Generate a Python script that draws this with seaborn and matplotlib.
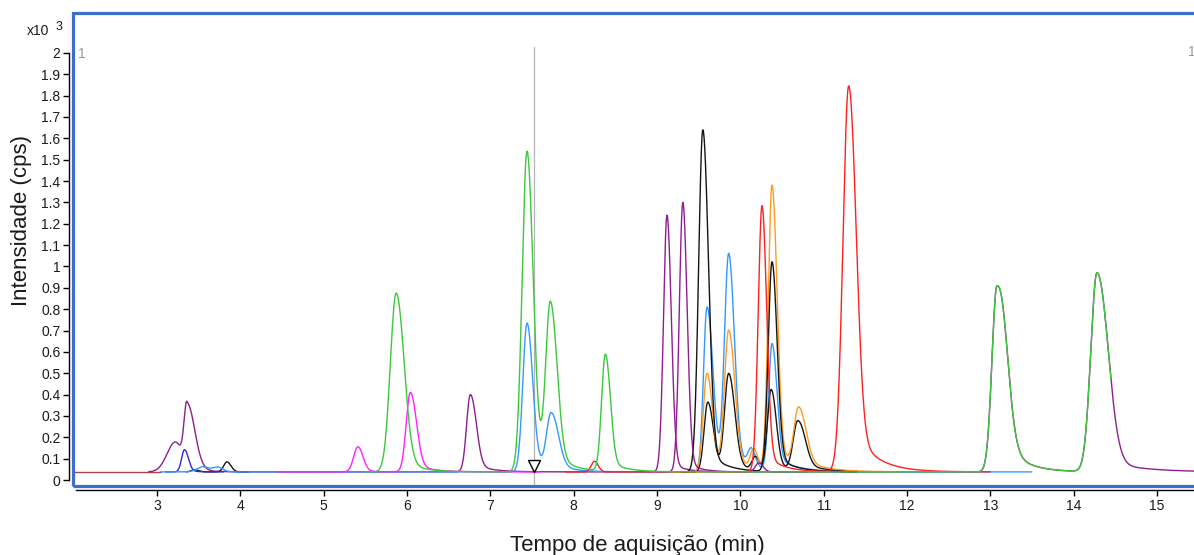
import numpy as np
import pandas as pd
import matplotlib
matplotlib.use("Agg")
import matplotlib.pyplot as plt
from matplotlib.patches import Rectangle
import seaborn as sns

# ---------------------------------------------------------------------------
# Chromatogram data: retention time (min), apex intensity (cps) and the peak
# shape of every peak as (sigma, right/left asymmetry, tail fraction, tail tau)
# ---------------------------------------------------------------------------
BASELINE_CPS = 38

darkred_window = (1.99, 3.05)
darkred_rt, darkred_cps, darkred_shape = [], [], []

purple_window = (2.90, 15.52)
purple_rt = [3.22, 3.36, 6.76, 9.12, 13.08, 14.28]
purple_cps = [178, 338, 400, 1240, 910, 970]
purple_shape = [(0.10, 0.8, 0.0, 0.2), (0.035, 2.6, 0.10, 0.15),
                (0.045, 1.5, 0.12, 0.20), (0.042, 1.2, 0.05, 0.15),
                (0.060, 1.8, 0.23, 0.23), (0.075, 1.7, 0.07, 0.41)]

purple2_window = (9.00, 10.80)
purple2_rt = [9.31, 10.22]
purple2_cps = [1300, 80]
purple2_shape = [(0.042, 1.2, 0.05, 0.15), (0.040, 1.3, 0.0, 0.20)]

lightblue_window = (3.04, 13.50)
lightblue_rt = [3.55, 3.73, 7.44, 7.73, 9.60, 9.86, 10.13, 10.38]
lightblue_cps = [62, 60, 735, 300, 810, 1040, 120, 630]
lightblue_shape = [(0.07, 1.0, 0.0, 0.2), (0.06, 1.0, 0.0, 0.2),
                   (0.050, 1.3, 0.10, 0.20), (0.055, 1.5, 0.12, 0.20),
                   (0.042, 1.6, 0.10, 0.20), (0.050, 1.3, 0.10, 0.20),
                   (0.040, 1.2, 0.0, 0.20), (0.040, 1.4, 0.12, 0.25)]

magenta_window = (4.45, 7.60)
magenta_rt = [5.41, 6.04]
magenta_cps = [156, 410]
magenta_shape = [(0.050, 1.2, 0.05, 0.20), (0.050, 1.4, 0.12, 0.20)]

green_window = (5.50, 14.45)
green_rt = [5.87, 7.44, 7.72, 8.38, 13.08, 14.28]
green_cps = [875, 1540, 800, 585, 910, 970]
green_shape = [(0.070, 1.3, 0.10, 0.20), (0.058, 1.2, 0.10, 0.20),
               (0.055, 1.4, 0.10, 0.20), (0.045, 1.3, 0.10, 0.20),
               (0.060, 1.8, 0.23, 0.23), (0.075, 1.7, 0.07, 0.41)]

blue_window = (3.10, 3.80)
blue_rt = [3.33]
blue_cps = [142]
blue_shape = [(0.035, 1.3, 0.05, 0.15)]

red_window = (7.90, 13.00)
red_rt = [8.25, 10.26, 11.30]
red_cps = [88, 1285, 1845]
red_shape = [(0.040, 1.1, 0.0, 0.20), (0.045, 1.2, 0.08, 0.20),
             (0.068, 1.25, 0.14, 0.255)]

orange_window = (9.20, 11.90)
orange_rt = [9.60, 9.86, 10.16, 10.38, 10.70]
orange_cps = [500, 690, 130, 1375, 315]
orange_shape = [(0.045, 1.4, 0.10, 0.20), (0.050, 1.4, 0.10, 0.20),
                (0.040, 1.2, 0.0, 0.20), (0.045, 1.3, 0.10, 0.20),
                (0.055, 1.5, 0.15, 0.30)]

black1_window = (3.35, 4.10)
black1_rt = [3.45, 3.84]
black1_cps = [48, 85]
black1_shape = [(0.04, 1.2, 0.0, 0.2), (0.04, 1.2, 0.0, 0.2)]

black2_window = (9.30, 11.40)
black2_rt = [9.55, 10.38]
black2_cps = [1640, 1020]
black2_shape = [(0.050, 1.3, 0.08, 0.20), (0.045, 1.3, 0.10, 0.20)]

black3_window = (9.35, 11.40)
black3_rt = [9.61, 9.86, 10.18, 10.37, 10.69]
black3_cps = [365, 490, 100, 420, 270]
black3_shape = [(0.045, 1.4, 0.10, 0.20), (0.050, 1.4, 0.10, 0.20),
                (0.040, 1.2, 0.0, 0.20), (0.045, 1.3, 0.10, 0.20),
                (0.055, 1.5, 0.15, 0.30)]

# drawing order: later traces are drawn on top
traces = [
    ("darkred", "#b04040", darkred_window, darkred_rt, darkred_cps, darkred_shape),
    ("purple", "#8e1f8e", purple_window, purple_rt, purple_cps, purple_shape),
    ("black1", "#151515", black1_window, black1_rt, black1_cps, black1_shape),
    ("blue", "#2a2ae0", blue_window, blue_rt, blue_cps, blue_shape),
    ("lightblue", "#3399ff", lightblue_window, lightblue_rt, lightblue_cps, lightblue_shape),
    ("magenta", "#ff22ff", magenta_window, magenta_rt, magenta_cps, magenta_shape),
    ("black3", "#151515", black3_window, black3_rt, black3_cps, black3_shape),
    ("orange", "#ff9922", orange_window, orange_rt, orange_cps, orange_shape),
    ("black2", "#151515", black2_window, black2_rt, black2_cps, black2_shape),
    ("purple2", "#8e1f8e", purple2_window, purple2_rt, purple2_cps, purple2_shape),
    ("red", "#ff2020", red_window, red_rt, red_cps, red_shape),
    ("green", "#3cc83c", green_window, green_rt, green_cps, green_shape),
]

x_ticks = list(range(3, 16))
y_ticks = [round(0.1 * i, 1) for i in range(21)]

MARKER_TIME = 7.52


def peak_profile(t, rt, amp, sigma, asym, tail, tau):
    """Bi-Gaussian peak with a smooth exponential tail on the right side."""
    d = t - rt
    left = amp * np.exp(-0.5 * (d / sigma) ** 2)
    dr = np.clip(d, 0, None)
    right = amp * (np.exp(-0.5 * (dr / (sigma * asym)) ** 2)
                   + tail * (1 - np.exp(-0.5 * (dr / sigma) ** 2)) * np.exp(-dr / tau))
    return np.where(d < 0, left, right)


frames = []
for name, color, (t0, t1), rts, cps, shapes in traces:
    t = np.arange(t0, t1, 0.002)
    y = np.full_like(t, BASELINE_CPS, dtype=float)
    for rt, h, (sg, asym, tail, tau) in zip(rts, cps, shapes):
        y += peak_profile(t, rt, h - BASELINE_CPS, sg, asym, tail, tau)
    frames.append(pd.DataFrame({"time": t, "intensity": y / 1000.0, "trace": name}))
df = pd.concat(frames, ignore_index=True)

palette = {name: color for name, color, *_ in traces}
order = [name for name, *_ in traces]

# ---------------------------------------------------------------------------
sns.set_style("white")
plt.rcParams["font.family"] = ["Liberation Sans", "DejaVu Sans"]

W, H = 1194, 555
fig = plt.figure(figsize=(W / 100, H / 100), dpi=100)
ax_left, ax_right, ax_top, ax_bottom = 73, 1200, 13, 486
ax = fig.add_axes([ax_left / W, 1 - ax_bottom / H,
                   (ax_right - ax_left) / W, (ax_bottom - ax_top) / H])

ax.axvline(MARKER_TIME, ymax=(2.028 + 0.028) / (2.187 + 0.028),
           color="#b4b4b4", lw=0.9, zorder=1)

sns.lineplot(data=df, x="time", y="intensity", hue="trace", hue_order=order,
             palette=palette, estimator=None, sort=False, legend=False,
             linewidth=1.0, ax=ax, zorder=2)

ax.plot([MARKER_TIME], [0.066], marker="v", ms=8, mfc="white", mec="black",
        mew=1.0, zorder=5)

ax.set_xlim(1.992, 15.516)
ax.set_ylim(-0.028, 2.187)
ax.set_xticks(x_ticks)
ax.set_yticks(y_ticks)
ax.set_xticklabels([str(v) for v in x_ticks])
ax.set_yticklabels([f"{v:g}" for v in y_ticks])

for side in ("top", "right"):
    ax.spines[side].set_visible(False)
for side in ("left", "bottom"):
    ax.spines[side].set_visible(True)
    ax.spines[side].set_color("black")
    ax.spines[side].set_linewidth(1.0)
    ax.spines[side].set_position(("outward", 3))
ax.spines["left"].set_bounds(0, 2.0)
ax.spines["bottom"].set_bounds(2.03, 15.516)

ax.tick_params(axis="both", direction="out", length=4, width=1.0,
               color="black", labelsize=10, labelcolor="#1a1a1a", pad=2,
               left=True, bottom=True)

ax.add_patch(Rectangle((0, 0), 1, 1, transform=ax.transAxes, fill=False,
                       ec="#3a6fd0", lw=2.3, clip_on=False, zorder=6))

ax.set_xlabel("Tempo de aquisição (min)", fontsize=16, color="#1a1a1a")
ax.set_ylabel("Intensidade (cps)", fontsize=16, color="#1a1a1a")
ax.xaxis.set_label_coords((637 - ax_left) / (ax_right - ax_left),
                          -(535 - ax_bottom) / (ax_bottom - ax_top))
ax.yaxis.set_label_coords(-(ax_left - 32) / (ax_right - ax_left),
                          (ax_bottom - 221) / (ax_bottom - ax_top))

fig.text(27 / W, 1 - 31 / H, "x10", fontsize=10, color="#1a1a1a",
         ha="left", va="center")
fig.text(56 / W, 1 - 27 / H, "3", fontsize=9, color="#1a1a1a",
         ha="left", va="center")
fig.text(78 / W, 1 - 54 / H, "1", fontsize=10, color="#9a9a9a",
         ha="left", va="center")
fig.text(1188 / W, 1 - 52 / H, "1", fontsize=10, color="#9a9a9a",
         ha="left", va="center")

fig.savefig("out.png", dpi=100)
